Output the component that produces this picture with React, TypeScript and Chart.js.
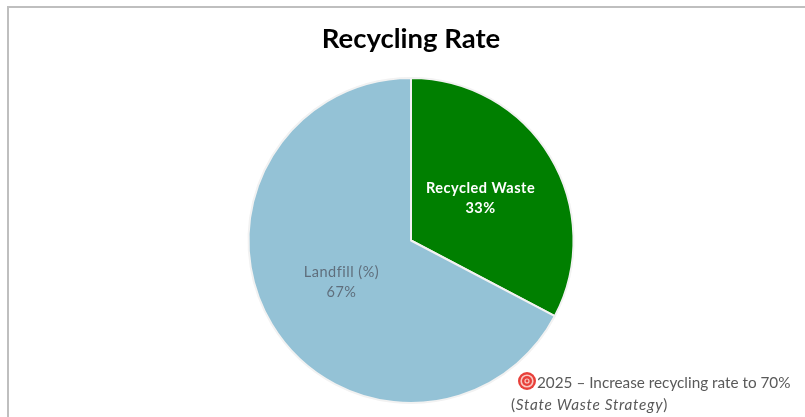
import React, { useEffect, useRef } from "react";
import { Chart, registerables } from "chart.js";

Chart.register(...registerables);

const titleText = "Recycling Rate";
const categories = ["Recycled Waste", "Landfill (%)"];
const seriesValues = [32.7, 67.3];
const sliceColors = ["#007F00", "#94C2D6"];
const labelColors = ["#FFFFFF", "#5F6E7C"];
const labelWeights = ["bold", "normal"];
const noteLine1 = "2025 – Increase recycling rate to 70%";
const noteLine2a = "(";
const noteLine2b = "State Waste Strategy";
const noteLine2c = ")";
const FONT = "Lato, Carlito, 'Open Sans', sans-serif";

const sliceLabels = {
  id: "sliceLabels",
  afterDatasetsDraw(chart: any) {
    const ctx = chart.ctx;
    const arcs = chart.getDatasetMeta(0).data;
    ctx.save();
    ctx.textAlign = "center";
    ctx.textBaseline = "middle";
    (ctx as any).letterSpacing = "0.5px";
    arcs.forEach((arc: any, i: number) => {
      const p = arc.getCenterPoint();
      ctx.fillStyle = labelColors[i];
      ctx.font = `${labelWeights[i]} 14.5px ${FONT}`;
      ctx.fillText(categories[i], p.x, p.y - 10);
      ctx.fillText(`${Math.round(seriesValues[i])}%`, p.x, p.y + 10);
    });
    ctx.restore();
  },
};

const note = {
  id: "note",
  afterDraw(chart: any) {
    const ctx = chart.ctx;
    ctx.save();
    const rings: [number, string][] = [
      [9, "#E8403A"],
      [6.6, "#F9C9C4"],
      [5, "#E8403A"],
      [2.6, "#F9C9C4"],
      [1.4, "#E8403A"],
    ];
    rings.forEach(([r, c]) => {
      ctx.beginPath();
      ctx.arc(527, 381, r, 0, Math.PI * 2);
      ctx.fillStyle = c;
      ctx.fill();
    });
    ctx.fillStyle = "#595959";
    ctx.textBaseline = "middle";
    ctx.textAlign = "left";
    ctx.font = `15.3px ${FONT}`;
    ctx.fillText(noteLine1, 537, 383);
    (ctx as any).letterSpacing = "0.7px";
    let x = 511;
    ctx.fillText(noteLine2a, x, 405);
    x += ctx.measureText(noteLine2a).width;
    ctx.font = `italic 15.3px ${FONT}`;
    ctx.fillText(noteLine2b, x, 405);
    x += ctx.measureText(noteLine2b).width;
    ctx.font = `15.3px ${FONT}`;
    ctx.fillText(noteLine2c, x, 405);
    ctx.restore();
  },
};

export default function App() {
  const ref = useRef<HTMLCanvasElement>(null);
  useEffect(() => {
    document.body.style.overflow = "hidden";
    const chart = new Chart(ref.current!, {
      type: "pie",
      data: {
        labels: categories,
        datasets: [
          {
            data: seriesValues,
            backgroundColor: sliceColors,
            borderColor: "#F2F2F2",
            borderWidth: 2,
          },
        ],
      },
      options: {
        animation: false,
        responsive: false,
        layout: { padding: { left: 247, right: 230, top: 0, bottom: 13 } },
        plugins: {
          legend: { display: false },
          tooltip: { enabled: false },
          title: {
            display: true,
            text: titleText,
            color: "#000000",
            font: { family: FONT, size: 27.5, weight: "bold" },
            padding: { top: 23, bottom: 21 },
          },
        },
      },
      plugins: [sliceLabels, note],
    });
    return () => chart.destroy();
  }, []);
  return (
    <div style={{ position: "absolute", left: 0, top: 0, width: 805, height: 417, overflow: "hidden", background: "#fff" }}>
      <div
        style={{
          position: "absolute",
          left: 7,
          top: 6,
          width: 810,
          height: 420,
          borderLeft: "2px solid #BFBFBF",
          borderTop: "2px solid #BFBFBF",
        }}
      />
      <canvas
        ref={ref}
        width={805}
        height={417}
        style={{ position: "absolute", left: 0, top: 0, display: "block", filter: "blur(0.45px)" }}
      />
    </div>
  );
}
